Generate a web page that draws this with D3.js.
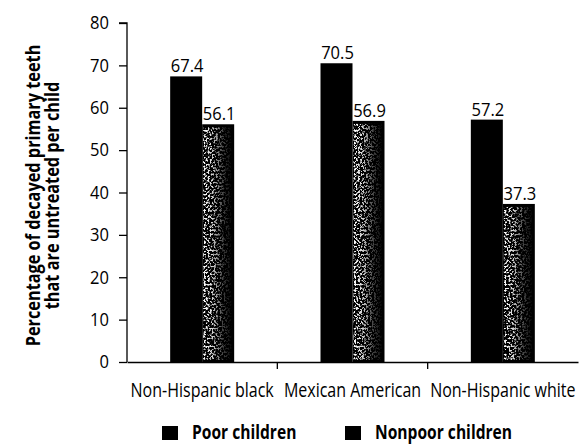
<!DOCTYPE html>
<html>
<head>
<meta charset="utf-8">
<script src="https://cdn.jsdelivr.net/npm/d3@7"></script>
<style>
  html, body { margin: 0; padding: 0; background: #fff; }
  svg { display: block; }
  text { font-family: "Open Sans", "Noto Sans", sans-serif; fill: #000; }
</style>
</head>
<body>
<svg id="chart" width="580" height="444"></svg>
<script>
// Untreated decay in primary teeth, by race/ethnicity and poverty status
const categories = ["Non-Hispanic black", "Mexican American", "Non-Hispanic white"];
const seriesNames = ["Poor children", "Nonpoor children"];
const poorValues = [67.4, 70.5, 57.2];
const nonpoorValues = [56.1, 56.9, 37.3];
const yTicks = [0, 10, 20, 30, 40, 50, 60, 70, 80];
const yTitle = ["Percentage of decayed primary teeth", "that are untreated per child"];

const rows = categories.map((c, i) => ({ category: c, values: [poorValues[i], nonpoorValues[i]] }));

const svg = d3.select("#chart");
const margin = { left: 127, right: 2, top: 23, bottom: 82 };
const W = 580, H = 444;
const NARROW = 0.8;    // horizontal squeeze giving a condensed look to word labels
const NUM_NARROW = 0.92;

const x = d3.scaleBand().domain(categories).range([margin.left, W - margin.right]).paddingInner(0).paddingOuter(0);
const xs = d3.scaleBand().domain(seriesNames).range([0, 64]);
const y = d3.scaleLinear().domain([0, 80]).range([H - margin.bottom, margin.top]);

// grain for the nonpoor bars: white flecks, denser toward the left edge
const defs = svg.append("defs");
const grad = defs.append("linearGradient").attr("id", "grainFade").attr("x1", 0).attr("x2", 1).attr("y1", 0).attr("y2", 0);
grad.append("stop").attr("offset", 0).attr("stop-color", "#fff").attr("stop-opacity", 1);
grad.append("stop").attr("offset", 0.3).attr("stop-color", "#fff").attr("stop-opacity", 0.85);
grad.append("stop").attr("offset", 0.65).attr("stop-color", "#fff").attr("stop-opacity", 0.3);
grad.append("stop").attr("offset", 1).attr("stop-color", "#fff").attr("stop-opacity", 0);
const f = defs.append("filter").attr("id", "grain").attr("x", 0).attr("y", 0).attr("width", 1).attr("height", 1);
f.append("feTurbulence").attr("type", "fractalNoise").attr("baseFrequency", 0.5).attr("numOctaves", 3).attr("seed", 11).attr("result", "noise");
f.append("feColorMatrix").attr("in", "noise").attr("type", "matrix")
  .attr("values", "0 0 0 0 1  0 0 0 0 1  0 0 0 0 1  8 0 0 0 -3.9").attr("result", "spots");
f.append("feComposite").attr("in", "spots").attr("in2", "SourceGraphic").attr("operator", "in");

const offsetX = (x.bandwidth() - 64) / 2;

const groups = svg.append("g").selectAll("g").data(rows).join("g")
  .attr("transform", d => `translate(${x(d.category) + offsetX},0)`);

const barData = d => d.values.map((v, i) => ({ series: seriesNames[i], value: v }));

groups.selectAll("rect.bar").data(barData)
  .join("rect").attr("class", "bar")
  .attr("x", d => xs(d.series)).attr("width", xs.bandwidth())
  .attr("y", d => y(d.value)).attr("height", d => y(0) - y(d.value))
  .attr("fill", "#000");

groups.selectAll("rect.grain").data(d => barData(d).filter(b => b.series === seriesNames[1]))
  .join("rect").attr("class", "grain")
  .attr("x", d => xs(d.series) + 1).attr("width", xs.bandwidth() - 3)
  .attr("y", d => y(d.value) + 3).attr("height", d => y(0) - y(d.value) - 5)
  .attr("fill", "url(#grainFade)").attr("filter", "url(#grain)");

groups.selectAll("text.val").data(barData)
  .join("text").attr("class", "val")
  .attr("transform", d => `translate(${xs(d.series) + xs.bandwidth() / 2 + 1},${y(d.value) - 4}) scale(${NUM_NARROW},1)`)
  .attr("text-anchor", "middle").attr("font-size", 18)
  .text(d => d.value.toFixed(1));

// y axis
const yAxis = svg.append("g").attr("transform", `translate(${margin.left},0)`)
  .call(d3.axisLeft(y).tickValues(yTicks).tickSize(8).tickPadding(10));
yAxis.selectAll(".tick text").attr("font-size", 18).style("font-family", null)
  .attr("transform", function () { return `translate(${+d3.select(this).attr("x")},0) scale(${NUM_NARROW},1)`; })
  .attr("x", 0);
yAxis.select(".domain").attr("stroke", "#000").attr("stroke-width", 1.3).attr("d", `M-8,${y(80)}H0V${y(0)}`);
yAxis.selectAll(".tick line").attr("stroke-width", 1.3);

// x axis with dividers between categories
const xAxis = svg.append("g").attr("transform", `translate(0,${y(0)})`)
  .call(d3.axisBottom(x).tickValues([]).tickSizeOuter(0));
xAxis.select(".domain").attr("stroke-width", 1.3);
xAxis.selectAll("line.div").data(categories.slice(1)).join("line").attr("class", "div")
  .attr("x1", d => x(d)).attr("x2", d => x(d)).attr("y1", 0).attr("y2", 7)
  .attr("stroke", "#000").attr("stroke-width", 1.3);
xAxis.selectAll("text.cat").data(categories).join("text").attr("class", "cat")
  .attr("transform", d => `translate(${x(d) + x.bandwidth() / 2},35) scale(${NARROW},1)`)
  .attr("text-anchor", "middle").attr("font-size", 20)
  .text(d => d);

// y title
const title = svg.append("text")
  .attr("transform", `translate(40,${(y(0) + y(80)) / 2 + 3}) rotate(-90) scale(0.815,1)`)
  .attr("text-anchor", "middle").attr("font-size", 20).attr("font-weight", "bold");
title.selectAll("tspan").data(yTitle).join("tspan")
  .attr("x", 0).attr("dy", (d, i) => i === 0 ? 0 : 18.5).text(d => d);

// legend
const legend = svg.append("g").attr("transform", "translate(162,439)");
const legendX = d3.scaleOrdinal().domain(seriesNames).range([0, 183]);
const li = legend.selectAll("g").data(seriesNames).join("g").attr("transform", d => `translate(${legendX(d)},0)`);
li.append("rect").attr("x", 0).attr("y", -13).attr("width", 16).attr("height", 14).attr("fill", "#000");
li.append("text").attr("transform", `translate(30,0) scale(0.78,1)`)
  .attr("font-size", 20).attr("font-weight", "bold").text(d => d);
</script>
</body>
</html>
